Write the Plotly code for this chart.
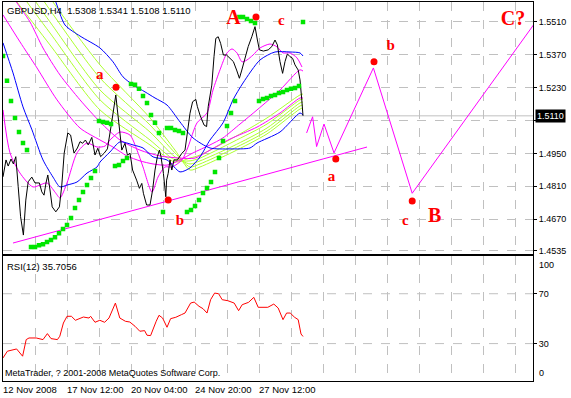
import plotly.graph_objects as go

# ---------------- data (bar index = H4 bar number, prices in GBPUSD) ----------------
header_symbol = "GBPUSD,H4"
header_ohlc = [1.5308, 1.5341, 1.5108, 1.5110]

price_ticks = [1.5510, 1.5370, 1.5230, 1.5090, 1.4950, 1.4810, 1.4670, 1.4535]
time_tick_bars = [0, 16, 32, 48, 64]
time_tick_labels = ["12 Nov 2008", "17 Nov 12:00", "20 Nov 04:00", "24 Nov 20:00", "27 Nov 12:00"]

close_bar = [0, 0.75, 1.3, 2, 2.6, 3.2, 3.8, 4.4, 5.1, 5.7,
             6.3, 7.2, 8, 9.1, 9.7, 10.25, 10.75, 11.2, 11.75, 12.3,
             13.2, 14.1, 14.7, 15.3, 16.2, 16.9, 17.75, 18.6, 19.25, 19.9,
             20.6, 21.3, 22.2, 23, 23.7, 24.4, 25.25, 26.1, 27, 27.6,
             28.2, 28.6, 29, 29.7, 30.5, 31.1, 31.75, 32.4, 33.4, 34.1,
             34.7, 35.1, 35.9, 36.75, 37.4, 38, 38.6, 39.1, 39.5, 40.1,
             40.7, 40.9, 41.3, 41.75, 42.2, 42.75, 43.6, 44.7, 45.5, 46.1,
             46.75, 47.4, 48.2, 48.6, 49.25, 50.25, 50.9, 51.3, 52.2, 52.75,
             53.2, 53.8, 54.4, 55.1, 55.9, 56.75, 57.6, 58.4, 59.1, 59.7,
             60.5, 61.3, 62.2, 63, 63.6, 64.1, 65.1, 66.3, 67.2, 68,
             68.6, 69.25, 69.9, 70.5, 71.1, 71.75, 72.4, 73, 73.8, 74.25,
             74.7, 75]
close_px = [1.4850, 1.4922, 1.4896, 1.4926, 1.4905, 1.4936, 1.4808, 1.4680, 1.4602, 1.4751,
            1.4829, 1.4849, 1.4824, 1.4824, 1.4786, 1.4772, 1.4824, 1.4858, 1.4794, 1.4722,
            1.4701, 1.4722, 1.4815, 1.4951, 1.5037, 1.5028, 1.4951, 1.4973, 1.5000, 1.4993,
            1.5007, 1.4986, 1.5018, 1.4943, 1.4972, 1.4936, 1.4950, 1.4969, 1.5064, 1.5135,
            1.5199, 1.5135, 1.5064, 1.4964, 1.4993, 1.4943, 1.4950, 1.4879, 1.4836, 1.4801,
            1.4822, 1.4780, 1.4730, 1.4730, 1.4794, 1.4879, 1.4936, 1.4964, 1.4936, 1.4865,
            1.4765, 1.4836, 1.4865, 1.4922, 1.4879, 1.4922, 1.4922, 1.4950, 1.4964, 1.5035,
            1.5121, 1.5170, 1.5180, 1.5149, 1.5113, 1.5071, 1.5064, 1.5149, 1.5241, 1.5362,
            1.5440, 1.5447, 1.5419, 1.5369, 1.5369, 1.5355, 1.5341, 1.5305, 1.5270, 1.5305,
            1.5355, 1.5405, 1.5447, 1.5490, 1.5433, 1.5391, 1.5386, 1.5391, 1.5405, 1.5433,
            1.5412, 1.5341, 1.5291, 1.5341, 1.5374, 1.5362, 1.5355, 1.5327, 1.5305, 1.5263,
            1.5177, 1.5110]

# Parabolic SAR, one value per bar (bars 0..75)
sar = [1.5365, 1.5259, 1.5173, 1.5101, 1.5041, 1.4994, 1.4964,
       1.4551, 1.4551, 1.4559, 1.4563, 1.4572, 1.4581, 1.4593, 1.4610, 1.4628, 1.4645,
       1.4675, 1.4717, 1.4751, 1.4785, 1.4815, 1.4845, 1.4875,
       1.5088, 1.5084, 1.5080, 1.5075,
       1.4896, 1.4900, 1.4918, 1.4930,
       1.5246, 1.5242, 1.5225, 1.5195, 1.5165, 1.5114, 1.5080, 1.5037,
       1.4700,
       1.5058, 1.5058, 1.5050, 1.5045, 1.5037,
       1.4700, 1.4709, 1.4726, 1.4751, 1.4781, 1.4802, 1.4828, 1.4871, 1.4930, 1.5003,
       1.5067, 1.5122, 1.5173,
       1.5531, 1.5531, 1.5523, 1.5514, 1.5506,
       1.5173, 1.5182, 1.5186, 1.5195, 1.5199, 1.5207, 1.5212, 1.5220, 1.5225, 1.5229, 1.5237,
       1.5510]

# blue moving averages
b1_bar = [0, 2.5, 5, 7.25, 10, 12.5, 14.25, 16, 18.5, 21, 23.5, 24.25, 26.75, 29.25, 32.5,
          35, 37.5, 41, 44.25, 46.75, 49.25, 51.75, 55, 57.5, 60, 64.25, 68, 71.75, 74.25, 75]
b1_px = [1.5421, 1.5293, 1.5148, 1.5050, 1.4922, 1.4849, 1.4807, 1.4815, 1.4828, 1.4866,
         1.4892, 1.4913, 1.4956, 1.4999, 1.4986, 1.4973, 1.4935, 1.4922, 1.4871, 1.4888,
         1.4935, 1.5007, 1.5080, 1.5178, 1.5250, 1.5348, 1.5382, 1.5382, 1.5378, 1.5365]
b2_bar = [11.75, 13, 15.5, 19.25, 24.25, 27.5, 30, 32.5, 35.5, 38, 41, 44.25, 47.5, 51.75,
          56.75, 61.75, 63.5, 69.25, 74.25, 75]
b2_px = [1.5647, 1.5604, 1.5497, 1.5450, 1.5399, 1.5340, 1.5276, 1.5242, 1.5212, 1.5186,
         1.5156, 1.5084, 1.5016, 1.4973, 1.4969, 1.4973, 1.4994, 1.5041, 1.5122, 1.5114]

# magenta moving averages
m1_bar = [0, 1.75, 4.25, 7.5, 11, 13, 14.25, 16, 18.5, 21, 23.5, 25.5, 26.75, 29.25, 31.75,
          33.5, 35, 37.25, 38.75, 40.5, 42.25, 44.75, 46.25, 48.5, 51, 52.5, 54.25, 56, 57.25,
          58.5, 59.75, 61, 62.5, 64.25, 66.75, 68.5, 70, 71.75, 73.5, 74.75]
m1_px = [1.5135, 1.4952, 1.4866, 1.4807, 1.4824, 1.4785, 1.4760, 1.4824, 1.4952, 1.4994,
         1.4977, 1.4981, 1.5007, 1.5041, 1.5028, 1.4964, 1.4892, 1.4785, 1.4849, 1.4892,
         1.4892, 1.4922, 1.4977, 1.5080, 1.5122, 1.5220, 1.5306, 1.5378, 1.5395, 1.5378,
         1.5340, 1.5348, 1.5369, 1.5399, 1.5416, 1.5404, 1.5378, 1.5378, 1.5357, 1.5318]
m2_bar = [0, 4.25, 8.5, 13.5, 19.25, 24.25, 27.5, 31, 34.25, 37.5, 41, 44.25, 47.5, 51.75,
          55, 59.25, 63.5, 69.25, 74.25, 75]
m2_px = [1.5540, 1.5425, 1.5314, 1.5178, 1.5058, 1.5007, 1.4977, 1.4939, 1.4918, 1.4905,
         1.4900, 1.4922, 1.4952, 1.4986, 1.5016, 1.5075, 1.5135, 1.5220, 1.5306, 1.5301]
m3_bar = [1.25, 3, 6.75, 10, 14.25, 19.25, 24.25, 29.25, 34.25, 39.25, 44.25, 48, 51.75,
          56.75, 63.5, 69.25, 74.25, 75]
m3_px = [1.5655, 1.5604, 1.5510, 1.5399, 1.5284, 1.5178, 1.5084, 1.5007, 1.4964, 1.4939,
         1.4930, 1.4930, 1.4964, 1.5011, 1.5062, 1.5122, 1.5186, 1.5186]

# yellow-green moving averages
lime_bar = [0, 11.75, 24.25, 36.75, 43, 46.75, 49.25, 57.5, 66, 74.25, 75]
lime1 = [1.5672, 1.5412, 1.5135, 1.4986, 1.4913, 1.4930, 1.4943, 1.5016, 1.5101, 1.5199, 1.5203]
lime2 = [1.5732, 1.5463, 1.5178, 1.5007, 1.4922, 1.4918, 1.4930, 1.4999, 1.5075, 1.5178, 1.5182]
lime3 = [1.5796, 1.5510, 1.5220, 1.5041, 1.4935, 1.4905, 1.4918, 1.4981, 1.5058, 1.5165, 1.5169]
lime4 = [1.5860, 1.5561, 1.5271, 1.5071, 1.4952, 1.4892, 1.4905, 1.4969, 1.5045, 1.5152, 1.5156]
lime5 = [1.5924, 1.5613, 1.5327, 1.5101, 1.4964, 1.4879, 1.4892, 1.4956, 1.5033, 1.5139, 1.5143]

# trend line and wave projection
trend_bar = [2.5, 91]
trend_px = [1.4568, 1.4977]
wave_bar = [75.9, 77.4, 78.4, 80.25, 82.75, 92.6, 102.3, 136.25]
wave_px = [1.5037, 1.5106, 1.4979, 1.5075, 1.4952, 1.5314, 1.4780, 1.5583]

# red pivot dots and wave labels
red_bar = [28.25, 41.3, 63.25, 83.2, 92.75, 102.3]
red_px = [1.5232, 1.4751, 1.5531, 1.4926, 1.5340, 1.4747]
label_text = ["a", "A", "c", "b", "a", "b", "c", "B", "C?"]
label_bar = [24.2, 57.6, 69.6, 44.25, 82.1, 96.9, 100.6, 107.9, 127.5]
label_px = [1.5285, 1.5522, 1.5513, 1.4659, 1.4848, 1.5408, 1.4662, 1.4680, 1.5520]

# RSI(12)
rsi_bar = [0, 1.1, 3.4, 4.9, 5.8, 6.5, 8.3, 10.0, 11.1, 12.0, 13.6, 14.2, 15.1, 16.0, 17.1,
           18.1, 20.1, 21.5, 21.9, 23.0, 24.2, 25.4, 26.5, 28.1, 29.2, 30.6, 31.7, 33.0, 34.2,
           35.4, 36.0, 36.9, 38.3, 39.0, 39.9, 41.0, 41.9, 43.2, 44.6, 45.5, 46.9, 47.8, 49.0,
           50.0, 51.0, 51.9, 52.9, 53.9, 54.8, 56.2, 57.8, 58.9, 59.8, 61.4, 62.7, 63.8, 66.2,
           67.7, 68.8, 70.0, 70.9, 71.8, 72.9, 73.8, 74.5, 75.0]
rsi_val = [18.5, 23.9, 25.7, 19.9, 33.2, 34.5, 34.5, 33.2, 38.0, 34.0, 33.2, 35.9, 46.5, 51.9,
           51.9, 48.7, 51.3, 50.5, 51.9, 47.1, 48.7, 47.1, 50.5, 62.5, 50.5, 47.9, 47.3, 43.9,
           39.9, 40.4, 36.7, 36.4, 47.9, 52.7, 50.5, 43.1, 50.0, 51.1, 53.2, 54.5, 62.5, 63.3,
           59.9, 58.0, 54.5, 65.2, 70.5, 70.0, 65.2, 64.4, 62.5, 56.4, 61.2, 63.1, 67.1, 59.1,
           59.1, 61.7, 58.5, 49.2, 54.5, 54.5, 51.1, 49.2, 37.7, 35.7056]
rsi_levels = [30, 70]
rsi_period = 12

# ---------------- figure ----------------
FONT = "Liberation Sans, Arial, sans-serif"
SERIF = "Liberation Serif, Times New Roman, serif"
BLUE, MAGENTA, LIME, GREEN, RED = "#0000ff", "#ff00ff", "#adff2f", "#00e600", "#ff0000"
GRID = "#c0c0c0"
AXFONT = dict(family=FONT, size=9, color="black")

fig = go.Figure()


def add_line(x, y, color, shape="spline", xa="x2", ya="y2", width=1):
    fig.add_trace(go.Scatter(x=x, y=y, mode="lines", xaxis=xa, yaxis=ya,
                             line=dict(color=color, width=width, shape=shape, smoothing=0.7),
                             hoverinfo="skip", showlegend=False))


for ly in [lime5, lime4, lime3, lime2, lime1]:
    add_line(lime_bar, ly, LIME)
add_line(m3_bar, m3_px, MAGENTA)
add_line(m2_bar, m2_px, MAGENTA)
add_line(m1_bar, m1_px, MAGENTA)
add_line(b2_bar, b2_px, BLUE)
add_line(b1_bar, b1_px, BLUE)
add_line(trend_bar, trend_px, MAGENTA, shape="linear")
add_line(wave_bar, wave_px, MAGENTA, shape="linear")
add_line(close_bar, close_px, "#000000", shape="linear")

fig.add_trace(go.Scatter(x=list(range(len(sar))), y=sar, mode="markers", xaxis="x2", yaxis="y2",
                         marker=dict(symbol="square", size=4.5, color=GREEN, line=dict(width=0)),
                         hoverinfo="skip", showlegend=False))
fig.add_trace(go.Scatter(x=red_bar, y=red_px, mode="markers", xaxis="x2", yaxis="y2",
                         marker=dict(symbol="circle", size=7, color=RED, line=dict(width=0)),
                         hoverinfo="skip", showlegend=False))
fig.add_trace(go.Scatter(x=label_bar, y=label_px, mode="text", text=label_text, xaxis="x2", yaxis="y2",
                         textposition="middle center",
                         textfont=dict(family=SERIF, color=RED, weight="bold",
                                       size=[20 if t[0].isupper() else 15 for t in label_text]),
                         hoverinfo="skip", showlegend=False))

add_line(rsi_bar, rsi_val, RED, shape="linear", xa="x", ya="y")

# bid line
fig.add_shape(type="line", xref="x2 domain", x0=0, x1=1, yref="y2", y0=close_px[-1], y1=close_px[-1],
              line=dict(color=GRID, width=1), layer="below")
for lv in rsi_levels:
    fig.add_shape(type="line", xref="x domain", x0=0, x1=1, yref="y", y0=lv, y1=lv,
                  line=dict(color=GRID, width=1, dash="dash"), layer="below")

xcommon = dict(range=[0, 132.5], showline=True, linecolor="black", linewidth=1, mirror=True,
               showgrid=True, gridcolor=GRID, griddash="dash", gridwidth=1, zeroline=False,
               tickmode="array", tickvals=time_tick_bars, automargin=False, ticks="",
               showticklabels=False,
               minor=dict(tickmode="linear", tick0=0, dtick=8, showgrid=True, gridcolor=GRID,
                          griddash="dash", ticks=""))

# hide the 1.5090 label, it sits under the bid-price box
price_ticktext = ["" if abs(v - close_px[-1]) < 0.003 else f"{v:.4f}" for v in price_ticks]

fig.update_layout(
    width=571, height=398,
    margin=dict(l=3, r=38, t=2, b=17, pad=0),
    paper_bgcolor="white", plot_bgcolor="white",
    showlegend=False, hovermode=False,
    font=dict(family=FONT, size=9.5, color="black"),
    xaxis=dict(domain=[0, 1], anchor="y", **xcommon),
    xaxis2=dict(domain=[0, 1], anchor="y2", **xcommon),
    yaxis=dict(domain=[0, 0.329], anchor="x", range=[0, 100], side="right",
               tickmode="array", tickvals=rsi_levels, ticktext=[str(v) for v in rsi_levels],
               ticks="outside", ticklen=3, tickcolor="black", showgrid=False, zeroline=False,
               showline=True, linecolor="black", linewidth=1, mirror=True, automargin=False,
               tickfont=AXFONT),
    yaxis2=dict(domain=[0.3343, 1], anchor="x2", range=[1.4520, 1.5595], side="right",
                tickmode="array", tickvals=price_ticks, ticktext=price_ticktext,
                ticks="outside", ticklen=3, tickcolor="black",
                showgrid=True, gridcolor=GRID, griddash="dash", gridwidth=1, zeroline=False,
                showline=True, linecolor="black", linewidth=1, mirror=True, automargin=False,
                tickfont=AXFONT),
)

ann = []
ann.append(dict(xref="paper", yref="paper", x=0, y=1, xanchor="left", yanchor="top", xshift=2, yshift=-1,
                text=header_symbol + "\u00a0\u00a0" + " ".join(f"{v:.4f}" for v in header_ohlc),
                showarrow=False, font=dict(family=FONT, size=9.5, color="black")))
ann.append(dict(xref="paper", yref="paper", x=0, y=0.329, xanchor="left", yanchor="top", xshift=2, yshift=-3,
                text=f"RSI({rsi_period}) {rsi_val[-1]:.4f}", showarrow=False,
                font=dict(family=FONT, size=9.5, color="black")))
ann.append(dict(xref="paper", yref="paper", x=0, y=0, xanchor="left", yanchor="bottom", xshift=0, yshift=1,
                text="MetaTrader, ? 2001-2008 MetaQuotes Software Corp.", showarrow=False,
                font=dict(family=FONT, size=9, color="black")))
ann.append(dict(xref="paper", yref="y2", x=1, y=close_px[-1], xanchor="left", yanchor="middle", xshift=2,
                text=f"{close_px[-1]:.4f}", showarrow=False, bgcolor="black", borderpad=1,
                font=dict(family=FONT, size=9, color="white")))
ann.append(dict(xref="paper", yref="y", x=1, y=100, xanchor="left", yanchor="top", xshift=4, yshift=-2,
                text="100", showarrow=False, font=AXFONT))
ann.append(dict(xref="paper", yref="y", x=1, y=0, xanchor="left", yanchor="bottom", xshift=4, yshift=1,
                text="0", showarrow=False, font=AXFONT))
# time axis labels, left-aligned at their bar like MetaTrader
for tb, tl in zip(time_tick_bars, time_tick_labels):
    ann.append(dict(xref="x", yref="paper", x=tb, y=0, xanchor="left", yanchor="top", xshift=-2, yshift=-1,
                    text=tl, showarrow=False, font=dict(family=FONT, size=9.5, color="black")))
fig.update_layout(annotations=ann)

fig.write_html("out.html", config={"displayModeBar": False, "staticPlot": True},
               post_script="document.body.style.margin='0';document.body.style.overflow='hidden';")
